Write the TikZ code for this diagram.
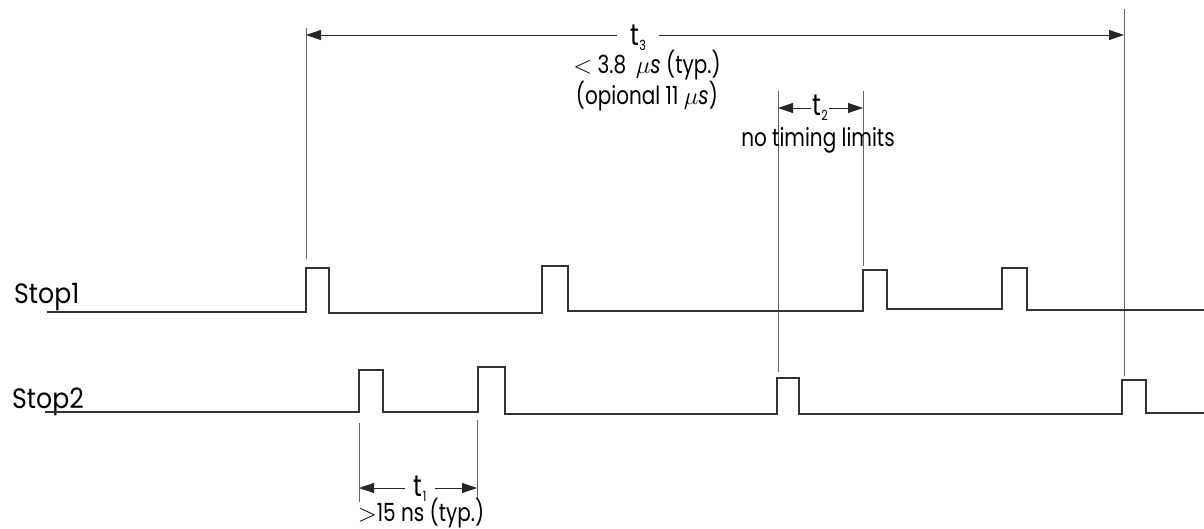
\documentclass[tikz,border=0pt]{standalone}
\usepackage{fontspec}
\setmainfont{Poppins}[FakeStretch=0.8]
\newfontfamily\sigfont{Poppins}[FakeStretch=0.9]
\usetikzlibrary{arrows.meta}
\newcommand{\tsub}[1]{t\kern0.5pt\raisebox{-5pt}[0pt][0pt]{\fontsize{14}{14}\selectfont #1}}
\begin{document}
\begin{tikzpicture}[x=1pt,y=-1pt,
  sig/.style={line width=1.1pt, draw=black!80, line join=miter},
  dimline/.style={line width=0.8pt, draw=black!60},
  dimarrow/.style={line width=0.8pt, draw=black!85, -{Triangle[length=15pt,width=10pt]}},
  lbl/.style={inner sep=0pt, anchor=base, font=\fontsize{25}{23}\selectfont},
  siglbl/.style={inner sep=0pt, anchor=base west, font=\sigfont\fontsize{28}{30}\selectfont},
  tlbl/.style={inner ysep=0pt, inner xsep=4pt, anchor=base, font=\fontsize{30}{30}\selectfont},
]
\useasboundingbox (0,0) rectangle (1204,529);
% extension lines
\coordinate (e3La) at (306,28);  \coordinate (e3Lb) at (306,259);
\coordinate (e3Ra) at (1124,9);  \coordinate (e3Rb) at (1124,376);
\coordinate (e2La) at (778,91);  \coordinate (e2Lb) at (778,372);
\coordinate (e2Ra) at (863,91);  \coordinate (e2Rb) at (863,266);
\coordinate (e1La) at (359,423); \coordinate (e1Lb) at (359,502);
\coordinate (e1Ra) at (477,420); \coordinate (e1Rb) at (477,498);
\draw[dimline] (e3La) -- (e3Lb);
\draw[dimline] (e3Ra) -- (e3Rb);
\draw[dimline] (e2La) -- (e2Lb);
\draw[dimline] (e2Ra) -- (e2Rb);
\draw[dimline] (e1La) -- (e1Lb);
\draw[dimline] (e1Ra) -- (e1Rb);
% arrow ends
\coordinate (t3L) at (306,35);  \coordinate (t3R) at (1124,35);
\coordinate (t2L) at (778,108); \coordinate (t2R) at (863,108);
\coordinate (t1L) at (359,488); \coordinate (t1R) at (477,488);
% labels
\node[tlbl, inner xsep=13pt] (t3) at (638,46) {\tsub{3}};
\node[tlbl, inner xsep=1pt] (t2) at (820,116) {\tsub{2}};
\node[tlbl, inner xsep=8pt] (t1) at (420,496) {\tsub{1}};
\draw[dimarrow] (t3.west |- t3L) -- (t3L);
\draw[dimarrow] (t3.east |- t3R) -- (t3R);
\draw[dimarrow] (t2.west |- t2L) -- (t2L);
\draw[dimarrow] (t2.east |- t2R) -- (t2R);
\draw[dimarrow] (t1.west |- t1L) -- (t1L);
\draw[dimarrow] (t1.east |- t1R) -- (t1R);
\node[lbl, anchor=center, align=center] (t3a) at (647,81) {$<$ 3.8\, $\mu$\textit{s} (typ.)\\(opional 11 $\mu$\textit{s})};
\node[lbl] (t2a) at (818,147) {no timing limits};
\node[lbl] (t1a) at (421,521) {$>$15 ns (typ.)};
% signals
\node[siglbl] (s1) at (14,303) {Stop1};
\node[siglbl] (s2) at (12,408) {Stop2};
\draw[sig] (47,312) -- (306,312) -- (306,268) -- (329,268) -- (329,313) -- (542,313) -- (542,266) -- (568,266) -- (568,311) -- (863,311) -- (863,270) -- (887,270) -- (887,309) -- (1002,309) -- (1002,268) -- (1027,268) -- (1027,310) -- (1204,310);
\draw[sig] (45,412) -- (359,412) -- (359,370) -- (383,370) -- (383,412) -- (478,412) -- (478,367) -- (505,367) -- (505,414) -- (777,414) -- (777,378) -- (799,378) -- (799,414) -- (1122,414) -- (1122,380) -- (1146,380) -- (1146,413) -- (1204,413);
\end{tikzpicture}
\end{document}
